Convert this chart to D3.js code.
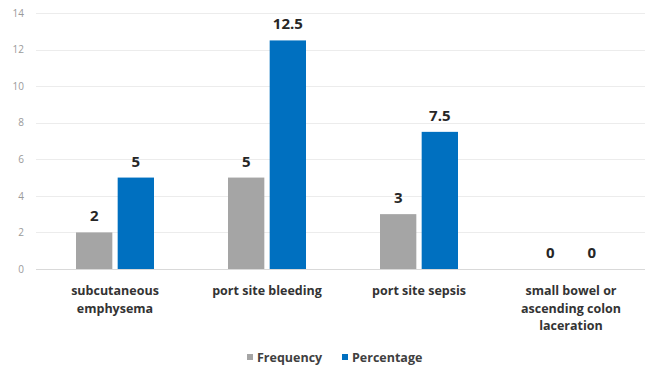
<!DOCTYPE html>
<html>
<head>
<meta charset="utf-8">
<script src="https://cdn.jsdelivr.net/npm/d3@7"></script>
<style>
  html, body { margin: 0; padding: 0; background: #fff; }
  svg { display: block; font-family: "Open Sans", "Liberation Sans", sans-serif; }
</style>
</head>
<body>
<svg id="chart" width="647" height="368"></svg>
<script>
// Complications: frequency and percentage per category
const categories = [
  ["subcutaneous", "emphysema"],
  ["port site bleeding"],
  ["port site sepsis"],
  ["small bowel or", "ascending colon", "laceration"]
];
const seriesNames = ["Frequency", "Percentage"];
const frequency = [2, 5, 3, 0];
const percentage = [5, 12.5, 7.5, 0];
const yTicks = [0, 2, 4, 6, 8, 10, 12, 14];
const colors = ["#A5A5A5", "#0070C0"];

const svg = d3.select("#chart");
const margin = { left: 39, right: 0, top: 13, bottom: 99 };
const W = 647, H = 368;

const keys = categories.map((c, i) => i);
const x0 = d3.scaleBand().domain(keys).range([margin.left, W - margin.right]).paddingInner(0).paddingOuter(0);
const x1 = d3.scaleBand().domain(seriesNames).range([0, 78]).paddingInner(10 / 78);
const y = d3.scaleLinear().domain([0, 14]).range([H - margin.bottom, margin.top]);

// gridlines
svg.append("g")
  .selectAll("line")
  .data(yTicks)
  .join("line")
  .attr("x1", 36).attr("x2", W - 2)
  .attr("y1", d => Math.round(y(d)) + 0.5).attr("y2", d => Math.round(y(d)) + 0.5)
  .attr("stroke", d => d === 0 ? "#d9d9d9" : "#ececec")
  .attr("stroke-width", 1);

// y axis tick labels
const yAxis = d3.axisLeft(y).tickValues(yTicks).tickSize(0).tickPadding(0);
svg.append("g")
  .attr("transform", `translate(24,0)`)
  .call(yAxis)
  .call(g => g.select(".domain").remove())
  .call(g => g.selectAll("text")
    .attr("fill", "#9a9a9a")
    .attr("font-size", 10)
    .attr("font-family", "\"Open Sans\", sans-serif"));

const data = keys.map(i => ({ i, values: [frequency[i], percentage[i]] }));

const groups = svg.append("g").selectAll("g")
  .data(data)
  .join("g")
  .attr("transform", d => `translate(${x0(d.i) + (x0.bandwidth() - 78) / 2},0)`);

groups.selectAll("rect")
  .data(d => d.values.map((v, k) => ({ k, v })))
  .join("rect")
  .attr("x", d => x1(seriesNames[d.k]))
  .attr("width", x1.bandwidth())
  .attr("y", d => y(d.v))
  .attr("height", d => y(0) - y(d.v))
  .attr("fill", d => colors[d.k]);

groups.selectAll("text.val")
  .data(d => d.values.map((v, k) => ({ k, v })))
  .join("text")
  .attr("class", "val")
  .attr("x", d => x1(seriesNames[d.k]) + x1.bandwidth() / 2)
  .attr("y", d => y(d.v) - 11)
  .attr("text-anchor", "middle")
  .attr("font-size", 15)
  .attr("font-weight", 700)
  .attr("fill", "#262626")
  .text(d => d.v);

// category labels
const catG = svg.append("g").selectAll("text")
  .data(data)
  .join("text")
  .attr("x", d => x0(d.i) + x0.bandwidth() / 2)
  .attr("y", 295)
  .attr("text-anchor", "middle")
  .attr("font-size", 12.5)
  .attr("font-weight", 700)
  .attr("fill", "#333333");
catG.selectAll("tspan")
  .data(d => categories[d.i])
  .join("tspan")
  .attr("x", function () { return d3.select(this.parentNode).attr("x"); })
  .attr("dy", (d, j) => j === 0 ? 0 : 17.5)
  .text(d => d);

// legend
const legend = svg.append("g").attr("transform", "translate(247,358)");
const legItems = [
  { name: seriesNames[0], color: colors[0], x: 0 },
  { name: seriesNames[1], color: colors[1], x: 95 }
];
const li = legend.selectAll("g").data(legItems).join("g")
  .attr("transform", d => `translate(${d.x},0)`);
li.append("rect").attr("x", 0).attr("y", -4).attr("width", 6).attr("height", 6).attr("fill", d => d.color);
li.append("text").attr("x", 10).attr("y", 4)
  .attr("font-size", 12.5).attr("font-weight", 700).attr("fill", "#404040")
  .text(d => d.name);
</script>
</body>
</html>
